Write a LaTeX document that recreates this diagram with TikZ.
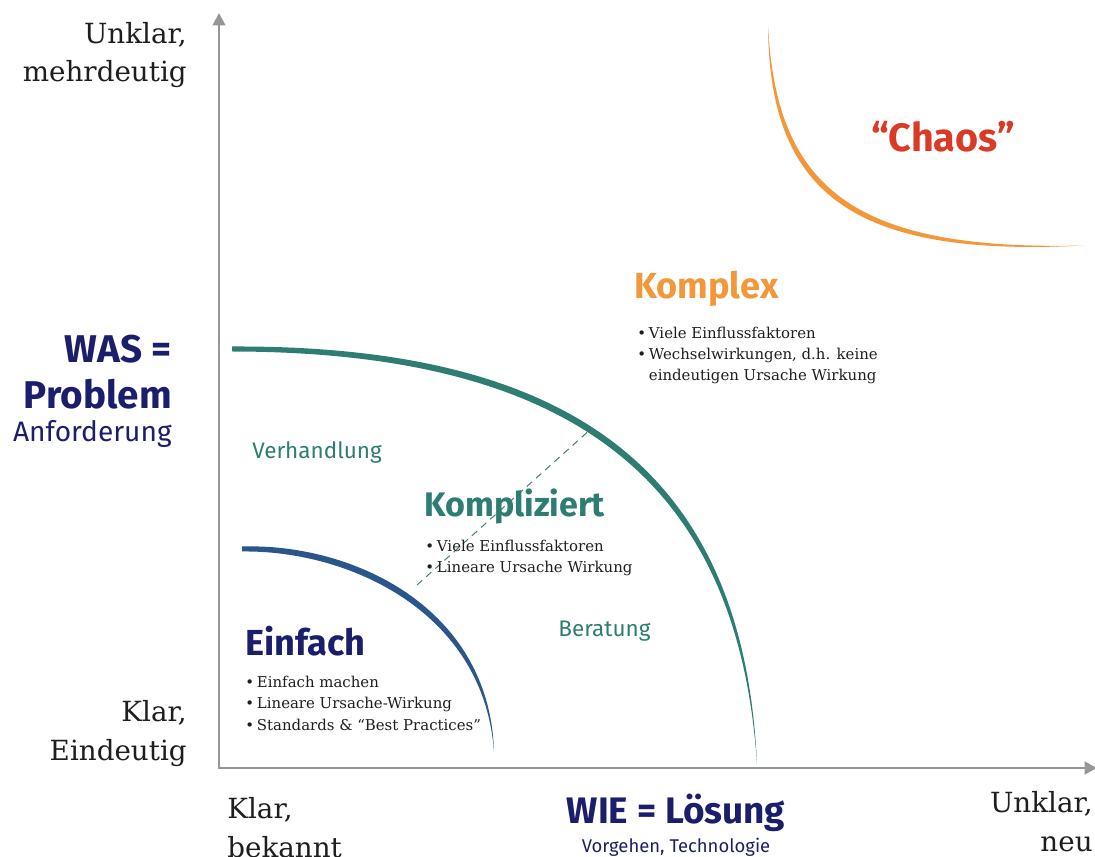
\documentclass[tikz,border=0pt]{standalone}
\usepackage{fontspec}
\setmainfont{DejaVu Serif}
\newfontfamily\fira{Fira Sans}
\usepackage{xcolor}
\usetikzlibrary{arrows.meta}

\definecolor{navy}{RGB}{27,31,107}
\definecolor{kurveblau}{RGB}{42,86,140}
\definecolor{petrol}{RGB}{46,125,115}
\definecolor{orangeK}{RGB}{242,152,58}
\definecolor{chaosrot}{RGB}{218,58,38}
\definecolor{achsgrau}{RGB}{150,150,150}
\definecolor{schwarz}{RGB}{30,30,30}

\newcommand{\pkt}{\makebox[6.6pt][l]{\textbullet}}
\newcommand{\ohnepkt}{\makebox[6.6pt][l]{}}

\begin{document}
\begin{tikzpicture}[x=0.02cm,y=-0.02cm,
  achse/.style={draw=achsgrau, line width=1.5pt, {Triangle[width=7pt,length=7pt]}-{Triangle[width=7pt,length=7pt]}},
  titel/.style={inner sep=0pt, anchor=base west, font=\fira\bfseries\fontsize{20.6}{24}\selectfont},
  punkte/.style={inner sep=0pt, anchor=base west, align=left, text=schwarz, font=\fontsize{8.5}{12.2}\selectfont},
  achstext/.style={inner sep=0pt, text=schwarz, font=\fontsize{15.8}{22.1}\selectfont},
  bereich/.style={inner sep=0pt, anchor=base west, text=petrol, font=\fira\fontsize{12.8}{15}\selectfont},
  strich/.style={draw=petrol!60!gray, line width=0.6pt, dash pattern=on 4pt off 3pt}
]
\useasboundingbox (0,0) rectangle (1095,857);

% Achsen
\coordinate (ytop) at (219,13);
\coordinate (O) at (219,768);
\coordinate (xend) at (1097,768);
\draw[achse] (ytop) -- (O) -- (xend);

% Kurven
\fill[kurveblau] (242,546.5) .. controls (352,543) and (490,607) .. (494,752)
  .. controls (484,611) and (348,550) .. (242,551.5) -- cycle;
\fill[petrol] (232,346.5) .. controls (580,345) and (744,478) .. (757,764)
  .. controls (738,483) and (576,352) .. (232,351.5) -- cycle;
\fill[orangeK] (768,25) .. controls (769,190) and (848,258) .. (1083,245.5)
  .. controls (853,251) and (776,188) .. cycle;

\coordinate (dashA) at (417,585);
\coordinate (dashB) at (592,428);
\draw[strich] (dashA) -- (dashB);

% Achsenbeschriftung links (base = letzte Zeile)
\node[achstext, anchor=base east, align=right] (unklarY) at (187,82) {Unklar,\\mehrdeutig};
\node[achstext, anchor=base east, align=right] (klarY) at (187,760) {Klar,\\Eindeutig};
\node[inner sep=0pt, anchor=base east, align=right, text=navy, font=\fira\bfseries\fontsize{22}{26.6}\selectfont] (was) at (172,409) {WAS =\\Problem};
\node[inner sep=0pt, anchor=base east, text=navy, font=\fira\fontsize{16}{19}\selectfont] (anford) at (172,442) {Anforderung};

% Achsenbeschriftung unten
\node[achstext, anchor=base west, align=left] (klarX) at (227,857) {Klar,\\bekannt};
\node[achstext, anchor=base east, align=right] (unklarX) at (1093,851) {Unklar,\\neu};
\node[inner sep=0pt, anchor=base, text=navy, font=\fira\bfseries\fontsize{21}{24}\selectfont] (wie) at (676,823) {WIE = Lösung};
\node[inner sep=0pt, anchor=base, text=navy, font=\fira\fontsize{10.5}{12}\selectfont] (vorgehen) at (676,852) {Vorgehen, Technologie};

% Bereiche
\node[titel, text=navy] (einfach) at (245,655) {Einfach};
\node[punkte] (einfachP) at (245,730) {\pkt Einfach machen\\\pkt Lineare Ursache-Wirkung\\\pkt Standards \& “Best Practices”};

\node[titel, text=petrol, font=\fira\bfseries\fontsize{19.4}{24}\selectfont] (kompliziert) at (424,517) {Kompliziert};
\node[punkte] (komplizP) at (425,573) {\pkt Viele Einflussfaktoren\\\pkt Lineare Ursache Wirkung};

\node[titel, text=orangeK] (komplex) at (634,299) {Komplex};
\node[punkte] (komplexP) at (637,381) {\pkt Viele Einflussfaktoren\\\pkt Wechselwirkungen, d.h. keine\\\ohnepkt eindeutigen Ursache Wirkung};

\node[inner sep=0pt, anchor=base, text=chaosrot, font=\fira\bfseries\fontsize{22.5}{26}\selectfont] (chaos) at (943,152) {“Chaos”};

\node[bereich] (verhandlung) at (252,459) {Verhandlung};
\node[bereich] (beratung) at (558,637) {Beratung};
\end{tikzpicture}
\end{document}
